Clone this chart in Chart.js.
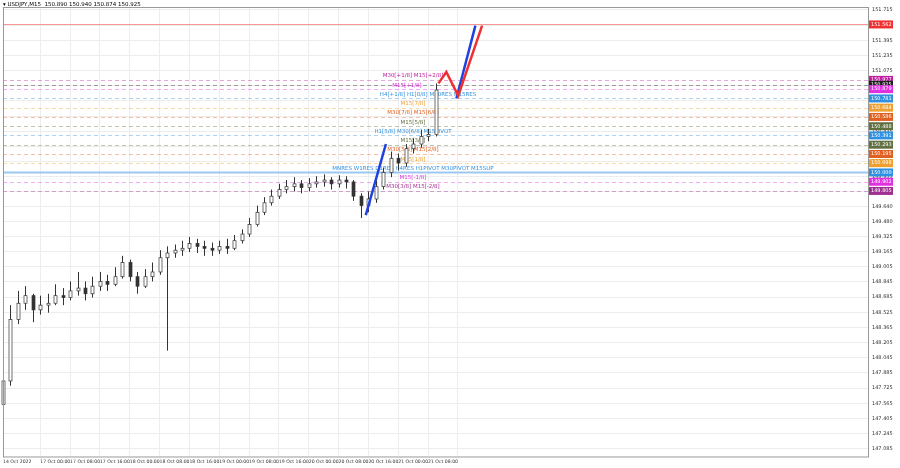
<!DOCTYPE html>
<html><head><meta charset="utf-8">
<script src="https://cdn.jsdelivr.net/npm/chart.js@4.4.0/dist/chart.umd.min.js"></script>
<style>html,body{margin:0;padding:0;background:#fff}#w{width:900px;height:468px;position:relative}</style>
</head><body><div id="w"><canvas id="c"></canvas></div>
<script>
const closes=[147.80,148.45,148.62,148.70,148.55,148.60,148.62,148.70,148.68,148.75,148.78,148.72,148.80,148.85,148.82,148.90,149.05,148.90,148.80,148.90,148.95,149.10,149.15,149.18,149.20,149.25,149.22,149.20,149.18,149.22,149.20,149.28,149.35,149.45,149.58,149.68,149.75,149.82,149.85,149.88,149.84,149.88,149.90,149.92,149.88,149.92,149.90,149.75,149.65,149.72,149.85,150.00,150.15,150.10,150.25,150.30,150.38,150.40,150.87];
const opens=[147.55,147.80,148.45,148.62,148.70,148.55,148.60,148.62,148.70,148.68,148.75,148.78,148.72,148.80,148.85,148.82,148.90,149.05,148.90,148.80,148.90,148.95,149.10,149.15,149.18,149.20,149.25,149.22,149.20,149.18,149.22,149.20,149.28,149.35,149.45,149.58,149.68,149.75,149.82,149.85,149.88,149.84,149.88,149.90,149.92,149.88,149.92,149.90,149.75,149.65,149.72,149.85,150.00,150.15,150.10,150.25,150.30,150.38,150.40];
const highs=[147.85,148.60,148.75,148.80,148.72,148.70,148.72,148.82,148.78,148.85,148.95,148.85,148.90,148.95,148.92,149.00,149.12,149.08,148.95,148.98,149.05,149.18,149.22,149.24,149.28,149.32,149.30,149.28,149.26,149.28,149.30,149.34,149.40,149.52,149.65,149.74,149.82,149.88,149.92,149.95,149.92,149.94,149.96,149.98,149.95,149.97,149.96,149.92,149.78,149.80,149.92,150.05,150.22,150.20,150.30,150.36,150.45,150.46,150.94];
const lows=[147.30,147.75,148.40,148.55,148.42,148.50,148.52,148.60,148.60,148.65,148.70,148.65,148.68,148.75,148.75,148.80,148.88,148.85,148.72,148.78,148.85,148.92,148.12,149.10,149.12,149.16,149.15,149.12,149.12,149.14,149.14,149.18,149.25,149.32,149.43,149.55,149.65,149.72,149.78,149.80,149.78,149.80,149.84,149.85,149.82,149.84,149.83,149.70,149.52,149.58,149.68,149.82,149.95,150.02,150.06,150.20,150.26,150.33,150.38];
const candleHours=closes.map((_,i)=>i*2);
const xTickHours=[0,10,18,26,34,42,50,58,66,74,82,90,98,106,114,122];
const xTickLabels=["14 Oct 2022","17 Oct 00:00","17 Oct 08:00","17 Oct 16:00","18 Oct 00:00","18 Oct 08:00","18 Oct 16:00","19 Oct 00:00","19 Oct 08:00","19 Oct 16:00","20 Oct 00:00","20 Oct 08:00","20 Oct 16:00","21 Oct 00:00","21 Oct 08:00",""];
const yTicks=[151.715,151.555,151.395,151.235,151.075,150.915,150.755,150.595,150.435,150.275,150.115,149.955,149.800,149.640,149.480,149.325,149.165,149.005,148.845,148.685,148.525,148.365,148.205,148.045,147.885,147.725,147.565,147.405,147.245,147.085];
const levelPrices=[151.562,150.977,150.925,150.879,150.781,150.684,150.586,150.488,150.391,150.293,150.195,150.098,150.000,149.902,149.805];
const levelColors=["#f03030","#c020a0","#202020","#e030e0","#3090e0","#f0a030","#e06020","#607040","#3090e0","#607040","#e06020","#f0a030","#3090e0","#e030e0","#a03090"];
const levelTexts=["","M30[+1/8] M15[+2/8]","","M15[+1/8]","H4[+1/8] H1[8/8] M30RES M15RES","M15[7/8]","M30[7/8] M15[6/8]","M15[5/8]","H1[5/8] M30[6/8] M15PIVOT","M15[3/8]","M30[5/8] M15[2/8]","M15[1/8]","MNRES W1RES D1RES H4RES H1PIVOT M30PIVOT M15SUP","M15[-1/8]","M30[3/8] M15[-2/8]"];
const levelTextX=[0,413,0,407,428,413,413,413,413,413,413,413,413,413,413];
const blue1=[{x:97.3,y:149.55},{x:102.7,y:150.30}];
const red1=[{x:116.8,y:150.94},{x:118.9,y:151.06},{x:122.1,y:150.81},{x:128.5,y:151.55}];
const blue2=[{x:121.6,y:150.78},{x:126.7,y:151.55}];

const draw={id:'draw',
beforeDatasetsDraw(ch){const c=ch.ctx,x=ch.scales.x,y=ch.scales.y,a=ch.chartArea;
 c.save();
 levelPrices.forEach((p,i)=>{const py=Math.round(y.getPixelForValue(p))+0.5;c.beginPath();
  if(i===0){c.strokeStyle='rgba(240,80,80,0.6)';c.lineWidth=1;c.setLineDash([]);}
  else if(i===12){c.strokeStyle='#9cc8f0';c.lineWidth=2;c.setLineDash([]);}
  else{c.strokeStyle=levelColors[i]+'66';c.lineWidth=1;c.setLineDash([4,3]);}
  c.moveTo(a.left,py);c.lineTo(a.right,py);c.stroke();});
 c.setLineDash([]);
 c.font='5.5px "DejaVu Sans"';c.textAlign='center';c.textBaseline='middle';
 levelTexts.forEach((t,i)=>{if(!t)return;c.fillStyle=levelColors[i];c.fillText(t,levelTextX[i],y.getPixelForValue(levelPrices[i])-4);});
 for(let i=0;i<closes.length;i++){const px=Math.round(x.getPixelForValue(candleHours[i]))+0.5;const up=closes[i]>=opens[i];
  c.strokeStyle='#333';c.lineWidth=1;c.beginPath();c.moveTo(px,y.getPixelForValue(highs[i]));c.lineTo(px,y.getPixelForValue(lows[i]));c.stroke();
  const t=y.getPixelForValue(Math.max(opens[i],closes[i])),b=y.getPixelForValue(Math.min(opens[i],closes[i]));
  c.fillStyle=up?'#fff':'#333';c.fillRect(px-1.5,t,3,Math.max(1,b-t));c.lineWidth=0.7;c.strokeRect(px-1.5,t,3,Math.max(1,b-t));}
 c.restore();},
afterDraw(ch){const c=ch.ctx,y=ch.scales.y,a=ch.chartArea;c.save();c.font='5px "DejaVu Sans"';c.textBaseline='middle';c.textAlign='left';
 levelPrices.forEach((p,i)=>{const py=y.getPixelForValue(p);c.fillStyle=levelColors[i];c.fillRect(a.right+1,py-4,24,8);c.fillStyle='#fff';c.fillText(p.toFixed(3),a.right+3,py);});
 c.fillStyle='#000';c.font='5.5px "DejaVu Sans"';c.fillText('▾ USDJPY,M15  150.890 150.940 150.874 150.925',3,5);
 c.strokeStyle='#999';c.lineWidth=1;c.strokeRect(a.left+0.5,a.top+0.5,a.right-a.left,a.bottom-a.top);c.restore();}};

new Chart(document.getElementById('c'),{type:'line',
data:{datasets:[
 {data:blue1,borderColor:'#2040e0',borderWidth:2.5,pointRadius:0},
 {data:red1,borderColor:'#f03030',borderWidth:2.5,pointRadius:0},
 {data:blue2,borderColor:'#2040e0',borderWidth:2.5,pointRadius:0}]},
options:{animation:false,responsive:true,maintainAspectRatio:false,layout:{padding:{left:0,top:0,right:2,bottom:0}},
 plugins:{legend:{display:false},tooltip:{enabled:false}},
 scales:{
  x:{type:'linear',min:0,max:232,grid:{color:'#ededed',drawTicks:false},border:{display:false},
   afterBuildTicks(s){s.ticks=xTickHours.map(v=>({value:v}));},
   ticks:{autoSkip:false,maxRotation:0,align:'start',padding:3,font:{size:4.6,family:'DejaVu Sans'},color:'#333',callback:(v,i)=>xTickLabels[i]}},
  y:{position:'right',min:147.003,max:151.746,grid:{color:'#ededed',drawTicks:false},border:{display:false},
   afterBuildTicks(s){s.ticks=yTicks.map(v=>({value:v}));},
   afterFit(s){s.width=30;},
   ticks:{autoSkip:false,padding:4,font:{size:5,family:'DejaVu Sans'},color:'#333',callback:v=>v.toFixed(3)}}}},
plugins:[draw]});
</script></body></html>
